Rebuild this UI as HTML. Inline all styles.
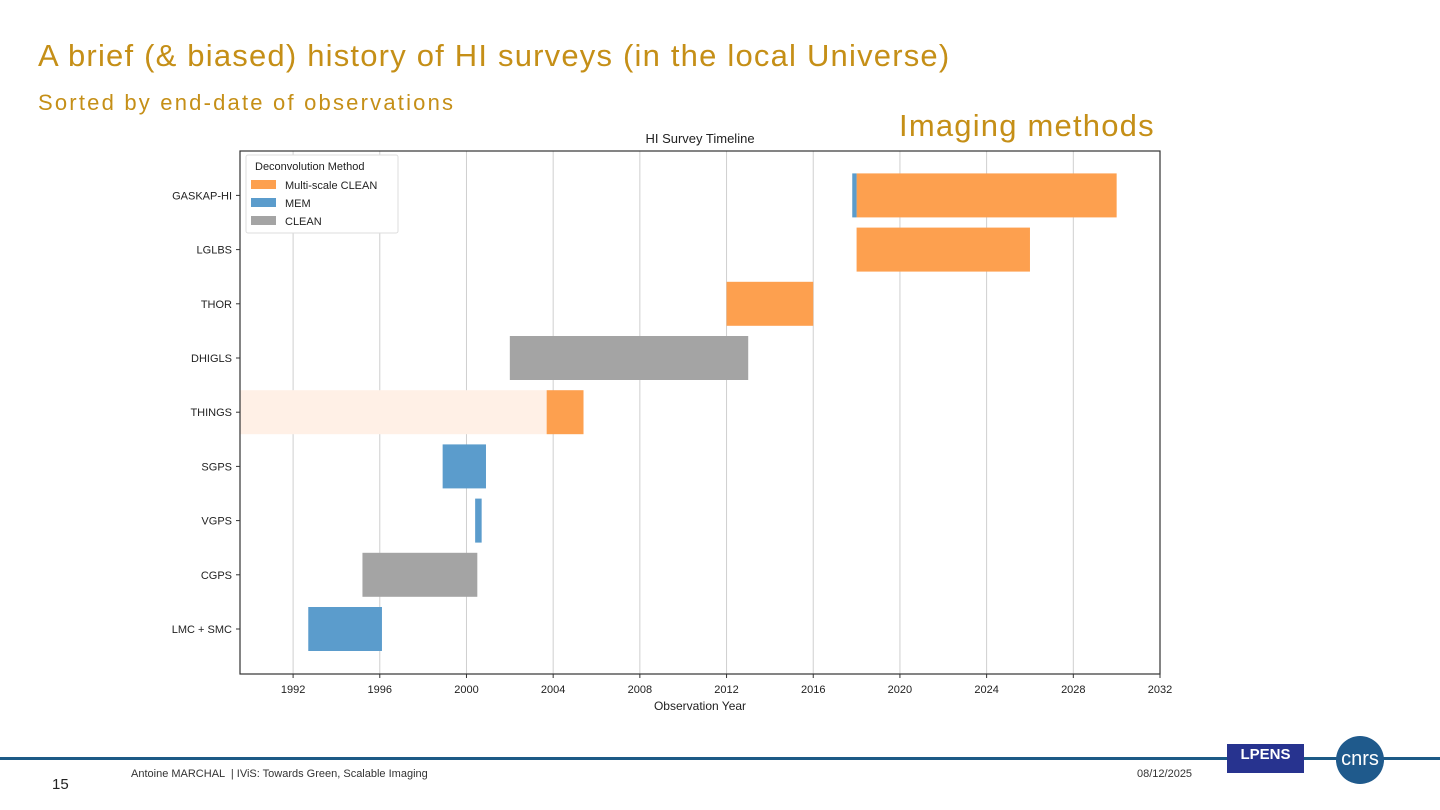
<!DOCTYPE html>
<html><head><meta charset="utf-8"><style>
body{margin:0;width:1440px;height:810px;background:#fff;position:relative;overflow:hidden;font-family:"Liberation Sans",sans-serif}
.t{position:absolute;white-space:nowrap}
</style></head><body>
<div class="t" style="left:38px;top:38px;font-size:31px;letter-spacing:1.2px;color:#c58f17">A brief (&amp; biased) history of HI surveys (in the local Universe)</div>
<div class="t" style="left:38px;top:90px;font-size:22px;letter-spacing:2.2px;color:#c58f17">Sorted by end-date of observations</div>
<div class="t" style="left:899px;top:108px;font-size:31px;letter-spacing:1.2px;color:#c58f17">Imaging methods</div>
<svg id="chart" width="1440" height="810" style="position:absolute;left:0;top:0" font-family="Liberation Sans, sans-serif"></svg>
<div style="position:absolute;left:0;top:757px;width:1440px;height:3px;background:#1d5a86"></div>
<div class="t" style="left:52px;top:776px;font-size:15px;color:#222">15</div>
<div class="t" style="left:131px;top:768px;font-size:11px;color:#333">Antoine MARCHAL &nbsp;| IViS: Towards Green, Scalable Imaging</div>
<div class="t" style="left:1137px;top:768px;font-size:11px;color:#333">08/12/2025</div>
<div style="position:absolute;left:1227px;top:744px;width:77px;height:29px;background:#27338f;color:#fff;font-size:15px;font-weight:bold;text-align:center;line-height:22px">LPENS</div>
<div style="position:absolute;left:1336px;top:736px;width:48px;height:48px;border-radius:50%;background:#1f5a8c;color:#fff;font-size:20px;text-align:center;line-height:46px">cnrs</div>
<script>
const surveys=["LMC + SMC","CGPS","VGPS","SGPS","THINGS","DHIGLS","THOR","LGLBS","GASKAP-HI"];
const starts=[1992.7,1995.2,2000.4,1998.9,2003.7,2002.0,2012.0,2018.0,2018.0];
const ends=[1996.1,2000.5,2000.7,2000.9,2005.4,2013.0,2016.0,2026.0,2030.0];
const methods=["MEM","CLEAN","MEM","MEM","Multi-scale CLEAN","CLEAN","Multi-scale CLEAN","Multi-scale CLEAN","Multi-scale CLEAN"];
const extraSurvey=["GASKAP-HI","THINGS"];
const extraStart=[2017.8,1989.55];
const extraEnd=[2018.0,2003.7];
const extraMethod=["MEM","faint"];
const xTicks=[1992,1996,2000,2004,2008,2012,2016,2020,2024,2028,2032];
const colors={"Multi-scale CLEAN":"#fda04f","MEM":"#5b9ccc","CLEAN":"#a4a4a4","faint":"#fff0e6"};
const L=240,R=1160,T=151,B=674,x0=1989.55,x1=2032;
const X=v=>L+(v-x0)/(x1-x0)*(R-L);
const Y=i=>629-i*54.2;
const svg=document.getElementById('chart');const NS="http://www.w3.org/2000/svg";
function mk(t,a,p){const e=document.createElementNS(NS,t);for(const k in a)e.setAttribute(k,a[k]);(p||svg).appendChild(e);return e;}
let tt=mk('text',{x:700,y:143,'font-size':13,'text-anchor':'middle',fill:'#222'});tt.textContent="HI Survey Timeline";


xTicks.forEach(v=>{const g=mk('line',{x1:X(v),x2:X(v),y1:T,y2:B,stroke:'#cfcfcf','stroke-width':1});


mk('line',{x1:X(v),x2:X(v),y1:B,y2:B+4,stroke:'#333'});
const t=mk('text',{x:X(v),y:B+19,'font-size':11,'text-anchor':'middle',fill:'#222'});t.textContent=v;

});
function bar(s,e,i,m){const r=mk('rect',{x:X(s),y:Y(i)-22,width:X(e)-X(s),height:44,fill:colors[m]});return r;}
extraSurvey.forEach((n,k)=>{if(extraMethod[k]==="faint"){const r=bar(extraStart[k],extraEnd[k],surveys.indexOf(n),"faint");

}});
surveys.forEach((n,i)=>{const r=bar(starts[i],ends[i],i,methods[i]);


mk('line',{x1:L-4,x2:L,y1:Y(i),y2:Y(i),stroke:'#333'});
const t=mk('text',{x:L-8,y:Y(i)+4,'font-size':11,'text-anchor':'end',fill:'#222'});t.textContent=n;

});
extraSurvey.forEach((n,k)=>{if(extraMethod[k]!=="faint"){const r=bar(extraStart[k],extraEnd[k],surveys.indexOf(n),extraMethod[k]);

}});
const fr=mk('rect',{x:L,y:T,width:R-L,height:B-T,fill:'none',stroke:'#333','stroke-width':1.2});


const xl=mk('text',{x:700,y:710,'font-size':12,'text-anchor':'middle',fill:'#222'});xl.textContent="Observation Year";


const lg=mk('g',{});


mk('rect',{x:246,y:155,width:152,height:78,fill:'#fff',stroke:'#ddd',rx:2},lg);
let lt=mk('text',{x:255,y:170,'font-size':11,fill:'#222'},lg);lt.textContent="Deconvolution Method";
["Multi-scale CLEAN","MEM","CLEAN"].forEach((m,k)=>{mk('rect',{x:251,y:180+k*18,width:25,height:9,fill:colors[m]},lg);
const t=mk('text',{x:285,y:189+k*18,'font-size':11,fill:'#222'},lg);t.textContent=m;

});
</script>
</body></html>
